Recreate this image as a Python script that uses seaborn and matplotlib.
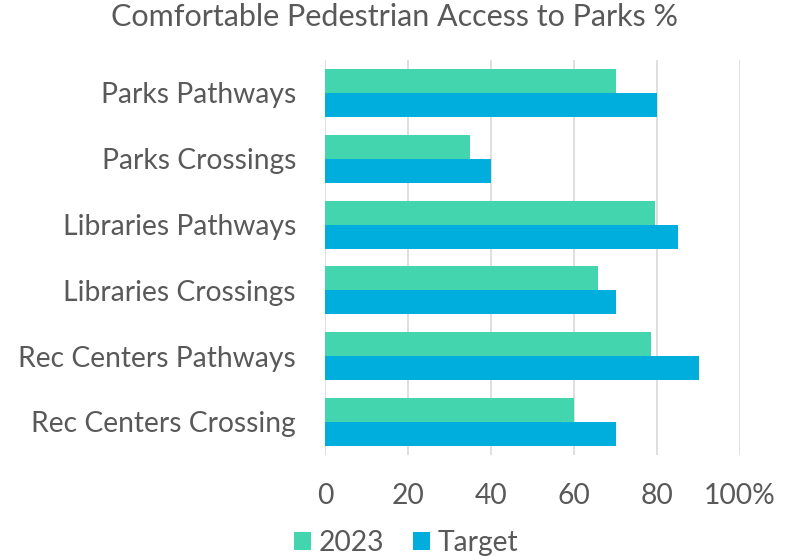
import matplotlib

matplotlib.use("Agg")

import matplotlib.pyplot as plt
import pandas as pd
import seaborn as sns

categories = [
    "Parks Pathways",
    "Parks Crossings",
    "Libraries Pathways",
    "Libraries Crossings",
    "Rec Centers Pathways",
    "Rec Centers Crossing",
]
values_2023 = [70, 35, 79.5, 65.8, 78.5, 60]
values_target = [80, 40, 85, 70, 90, 70]
series = ["2023", "Target"]
tick_values = [0, 20, 40, 60, 80, 100]
tick_labels = ["0", "20", "40", "60", "80", "100%"]

df = pd.DataFrame({
    "category": categories * 2,
    "value": values_2023 + values_target,
    "series": [series[0]] * len(categories) + [series[1]] * len(categories),
})

sns.set_style("white")
plt.rcParams["font.family"] = ["Lato", "DejaVu Sans"]
text_color = "#595959"
fs = 20.3

fig = plt.figure(figsize=(7.89, 5.56), dpi=100)
ax = fig.add_axes([0.412, 0.182, 0.526, 0.71])

sns.barplot(
    data=df, y="category", x="value", hue="series", orient="h",
    palette={"2023": "#43D6AE", "Target": "#00AEDD"},
    width=0.73, saturation=1, linewidth=0, ax=ax, zorder=3,
)

ax.set_xlim(0, 100)
ax.set_ylim(5.5, -0.5)
ax.set_xticks(tick_values)
ax.set_xticklabels(tick_labels)
ax.grid(axis="x", color="#d9d9d9", linewidth=1.2, zorder=0)
for s in ax.spines.values():
    s.set_visible(False)
ax.tick_params(axis="both", length=0, labelsize=fs, colors=text_color)
ax.tick_params(axis="y", pad=21)
ax.tick_params(axis="x", pad=20)
ax.set_xlabel("")
ax.set_ylabel("")

ax.legend_.remove()
handles, labels = ax.get_legend_handles_labels()
fig.legend(handles, labels, loc="lower left", bbox_to_anchor=(0.34, -0.045),
           ncol=2, frameon=False, fontsize=fs, labelcolor=text_color,
           handlelength=0.6, handleheight=0.6, handletextpad=0.3,
           columnspacing=1.0)

fig.suptitle("Comfortable Pedestrian Access to Parks %", x=0.5, y=0.995,
             fontsize=22, color=text_color)

plt.savefig("out.png", dpi=100)
plt.close()
